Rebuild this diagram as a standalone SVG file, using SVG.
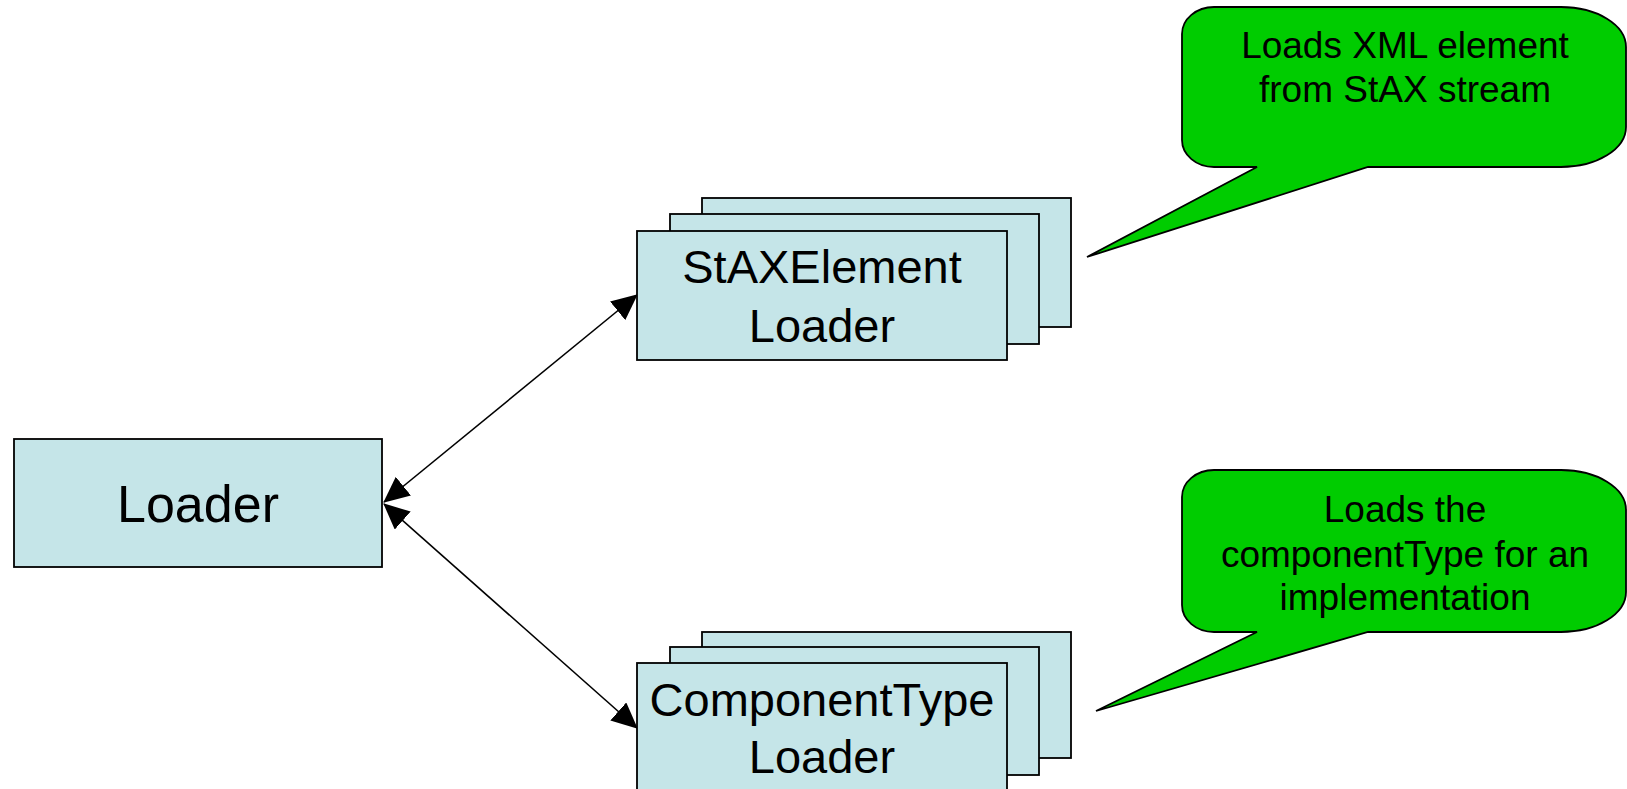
<svg xmlns="http://www.w3.org/2000/svg" width="1627" height="789" viewBox="0 0 1627 789">
  <style>
    .box { fill: #C5E5E8; stroke: #000; stroke-width: 1.8; }
    .callout { fill: #00CC00; stroke: #000; stroke-width: 1.8; stroke-linejoin: miter; }
    .t { font-family: "Liberation Sans", Arial, sans-serif; fill: #000; text-anchor: middle; }
    .big { font-size: 52px; }
    .mid { font-size: 47px; }
    .small { font-size: 37px; }
    .conn { stroke: #000; stroke-width: 1.6; fill: none; marker-start: url(#arrow); marker-end: url(#arrow); }
  </style>
  <defs>
    <marker id="arrow" markerUnits="userSpaceOnUse" markerWidth="26" markerHeight="24" refX="25" refY="12" orient="auto-start-reverse">
      <path d="M0,0 L26,12 L0,24 Z" fill="#000"/>
    </marker>
  </defs>
  <rect width="1627" height="789" fill="#fff"/>

  <g id="connectors">
    <line class="conn" x1="384" y1="502" x2="637" y2="295"/>
    <line class="conn" x1="384" y1="504" x2="637" y2="728"/>
  </g>

  <g id="loader">
    <rect class="box" x="14" y="439" width="368" height="128"/>
    <text class="t big" x="198" y="522">Loader</text>
  </g>

  <g id="staxelement-loader">
    <rect class="box" x="702" y="198" width="369" height="129"/>
    <rect class="box" x="670" y="214" width="369" height="130"/>
    <rect class="box" x="637" y="231" width="370" height="129"/>
    <text class="t mid" x="822" y="283">StAXElement</text>
    <text class="t mid" x="822" y="342">Loader</text>
  </g>

  <g id="componenttype-loader">
    <rect class="box" x="702" y="632" width="369" height="126"/>
    <rect class="box" x="670" y="647" width="369" height="128"/>
    <rect class="box" x="637" y="663" width="370" height="140"/>
    <text class="t mid" x="822" y="716">ComponentType</text>
    <text class="t mid" x="822" y="773">Loader</text>
  </g>

  <g id="callout-stax">
    <path class="callout" d="M1214,7 H1561 A65,40 0 0 1 1626,47 V127 A65,40 0 0 1 1561,167 H1368 L1087,257 L1257,167 H1214 A32,27 0 0 1 1182,140 V34 A32,27 0 0 1 1214,7 Z"/>
    <text class="t small" x="1405" y="58">Loads XML element</text>
    <text class="t small" x="1405" y="102">from StAX stream</text>
  </g>

  <g id="callout-componenttype">
    <path class="callout" d="M1214,470 H1561 A65,40 0 0 1 1626,510 V592 A65,40 0 0 1 1561,632 H1368 L1096,711 L1257,632 H1214 A32,27 0 0 1 1182,605 V497 A32,27 0 0 1 1214,470 Z"/>
    <text class="t small" x="1405" y="522">Loads the</text>
    <text class="t small" x="1405" y="567">componentType for an</text>
    <text class="t small" x="1405" y="610">implementation</text>
  </g>
</svg>
